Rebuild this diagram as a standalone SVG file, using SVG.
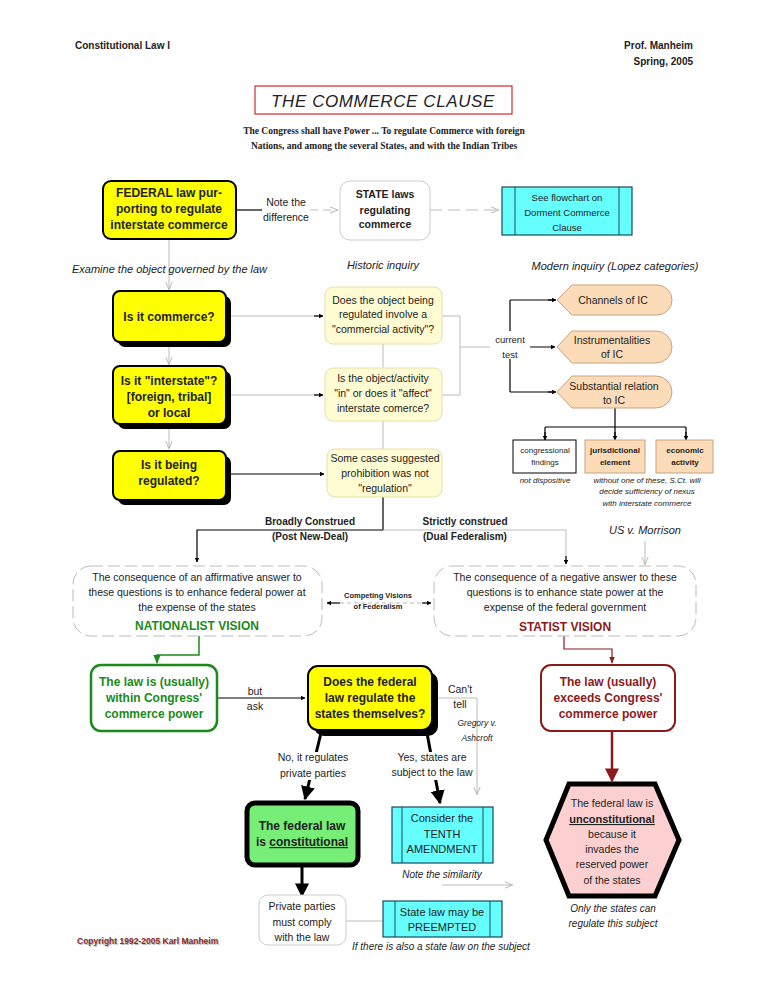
<svg xmlns="http://www.w3.org/2000/svg" width="768" height="994" viewBox="0 0 768 994">
<defs>
<marker id="ab" viewBox="0 0 10 10" refX="9" refY="5" markerWidth="6" markerHeight="6" orient="auto"><path d="M0,1 L10,5 L0,9 z" fill="#000"/></marker>
<marker id="abb" viewBox="0 0 10 10" refX="9" refY="5" markerWidth="4" markerHeight="4" orient="auto"><path d="M0,0 L10,5 L0,10 z" fill="#000"/></marker>
<marker id="abig" viewBox="0 0 10 10" refX="9" refY="5" markerUnits="userSpaceOnUse" markerWidth="14" markerHeight="14" orient="auto"><path d="M0,0 L10,5 L0,10 z" fill="#000"/></marker>
<marker id="rbig" viewBox="0 0 10 10" refX="9" refY="5" markerUnits="userSpaceOnUse" markerWidth="14" markerHeight="14" orient="auto"><path d="M0,0 L10,5 L0,10 z" fill="#8b1a1a"/></marker>
<marker id="ag" viewBox="0 0 10 10" refX="9" refY="5" markerWidth="6" markerHeight="6" orient="auto"><path d="M0,1 L10,5 L0,9 z" fill="#1a8a1a"/></marker>
<marker id="ar" viewBox="0 0 10 10" refX="9" refY="5" markerWidth="6" markerHeight="6" orient="auto"><path d="M0,1 L10,5 L0,9 z" fill="#8b1a1a"/></marker>
<marker id="ao" viewBox="0 0 10 10" refX="9" refY="5" markerWidth="8" markerHeight="8" orient="auto"><path d="M0,1 L10,5 L0,9" fill="none" stroke="#aaa"/></marker>
</defs>
<style>
text{font-family:"Liberation Sans",Arial,sans-serif;fill:#222}
.c{text-anchor:middle}
.b{font-weight:bold}
.i{font-style:italic}
.yl{fill:#ffff00;stroke:#000;stroke-width:2}
.sh{fill:#000}
.ly{fill:#fffbd2;stroke:#e6e0a8;stroke-width:1}
.or{fill:#fcdcb8;stroke:#c9a27e;stroke-width:1}
.cy{fill:#66ffff;stroke:#1a4a5a;stroke-width:1.2}
.g{stroke:#bbb;fill:none;stroke-width:1}
.k{stroke:#000;fill:none;stroke-width:1.2}
.ds{fill:#fff;stroke:#bbb;stroke-dasharray:12 5;stroke-width:1}
</style>
<rect width="768" height="994" fill="#fff"/>
<text x="75" y="49" class="b" font-size="10">Constitutional Law I</text>
<text x="693" y="49" class="b" font-size="10" text-anchor="end">Prof. Manheim</text>
<text x="693" y="65" class="b" font-size="10" text-anchor="end">Spring, 2005</text>
<rect x="255" y="86" width="257" height="28" fill="none" stroke="#c00" stroke-width="1"/>
<text x="383" y="107" class="c i" font-size="17" letter-spacing="0.6">THE  COMMERCE  CLAUSE</text>
<text x="384" y="134" class="c b" font-size="9.5" style="font-family:'Liberation Serif',serif">The Congress shall have Power ... To regulate Commerce with foreign</text>
<text x="384" y="149" class="c b" font-size="9.5" style="font-family:'Liberation Serif',serif">Nations, and among the several States, and with the Indian Tribes</text>

<g id="connectors">
<path class="k" d="M236,210 H262"/>
<path class="g" d="M310,210 H337" stroke-dasharray="8 5" marker-end="url(#ao)"/>
<path class="g" d="M430,210 H498" stroke-dasharray="12 6" marker-end="url(#ao)"/>
<path class="g" d="M169,239 V289" marker-end="url(#ao)"/>
<path class="g" d="M169,342 V364" marker-end="url(#ao)"/>
<path class="g" d="M169,424 V448" marker-end="url(#ao)"/>
<path class="g" d="M226,316 H318"/><path class="k" d="M314,316 H323" marker-end="url(#abb)"/>
<path class="g" d="M226,395 H318"/><path class="k" d="M314,395 H323" marker-end="url(#abb)"/>
<path class="k" d="M226,474 H324" marker-end="url(#abb)"/>
<path class="g" d="M383,344 V368 M383,421 V449"/>
<path class="g" d="M442,316 H460 V395 H442 M460,347 H510"/>
<path class="k" d="M510,347 H555" marker-end="url(#abb)"/>
<path class="k" d="M510,300 V392 M510,300 H555 M510,392 H555" />
<path class="k" d="M548,300 H556" marker-end="url(#abb)"/>
<path class="k" d="M548,392 H556" marker-end="url(#abb)"/>
<path class="k" d="M615,408 V427 M545,427 H686 M545,427 V439 M615,427 V439 M686,427 V439"/>
<path class="k" d="M545,432 V440" marker-end="url(#abb)"/>
<path class="k" d="M615,432 V440" marker-end="url(#abb)"/>
<path class="k" d="M686,432 V440" marker-end="url(#abb)"/>
<path class="k" d="M383,497 V530 H197 V562" marker-end="url(#abb)"/>
<path class="g" d="M383,530 H566 V560"/><path class="k" d="M566,556 V564" marker-end="url(#abb)"/>
<path class="g" d="M645,541 V564" marker-end="url(#ao)"/>
<path class="g" d="M340,603 H425" stroke-dasharray="4 3"/>
<path class="k" d="M340,603 H327" marker-end="url(#abb)"/>
<path class="k" d="M422,603 H431" marker-end="url(#abb)"/>
<path d="M199,636 V655 H157 V663" fill="none" stroke="#1a8a1a" stroke-width="1.5" marker-end="url(#ag)"/>
<path class="k" d="M217,698 H305" marker-end="url(#abb)"/>
<path d="M564,636 V649 H612 V663" fill="none" stroke="#8b1a1a" stroke-width="1.2" marker-end="url(#ar)"/>
<path d="M612,731 V781" fill="none" stroke="#8b1a1a" stroke-width="2.5" marker-end="url(#rbig)"/>
<path class="g" d="M432,698 H477 V794" marker-end="url(#ao)"/>
<path d="M321,733 L305,799" fill="none" stroke="#000" stroke-width="3" marker-end="url(#abig)"/>
<path d="M427,733 L440,803" fill="none" stroke="#000" stroke-width="3" marker-end="url(#abig)"/>
<path d="M302,866 V896" fill="none" stroke="#000" stroke-width="3" marker-end="url(#abig)"/>
<path class="g" d="M442,885 H512" marker-end="url(#ao)"/>
<path class="g" d="M346,921 H384"/>
</g>

<g id="federal"><rect x="103" y="181" width="133" height="58" rx="8" class="yl" stroke-width="3"/>
<text x="169" y="197" class="c b" font-size="12">FEDERAL law pur-</text>
<text x="169" y="213" class="c b" font-size="12">porting to regulate</text>
<text x="169" y="229" class="c b" font-size="12">interstate commerce</text></g>
<g id="note"><text x="286" y="206" class="c" font-size="10.5">Note the</text><text x="286" y="221" class="c" font-size="10.5">difference</text></g>
<g id="state"><rect x="340" y="181" width="90" height="59" rx="10" fill="#fff" stroke="#ccc"/>
<text x="385" y="198" class="c b" font-size="10.5">STATE laws</text>
<text x="385" y="214" class="c b" font-size="10.5">regulating</text>
<text x="385" y="228" class="c b" font-size="10.5">commerce</text></g>
<g id="dormant"><rect x="502" y="187" width="130" height="48" class="cy"/><path d="M515,187 V235 M619,187 V235" stroke="#1a4a5a"/>
<text x="567" y="201" class="c" font-size="9.5">See flowchart on</text>
<text x="567" y="216" class="c" font-size="9.5">Dorment Commerce</text>
<text x="567" y="231" class="c" font-size="9.5">Clause</text></g>
<text x="72" y="273" class="i" font-size="11">Examine the object governed by the law</text>
<text x="383" y="269" class="c i" font-size="11">Historic inquiry</text>
<text x="615" y="270" class="c i" font-size="11">Modern inquiry  (Lopez categories)</text>

<g id="q1"><rect x="118" y="296" width="113" height="51" rx="7" class="sh"/><rect x="113" y="291" width="113" height="51" rx="7" class="yl" stroke="none"/>
<text x="169" y="321" class="c b" font-size="12">Is it commerce?</text></g>
<g id="q2"><rect x="118" y="371" width="113" height="58" rx="7" class="sh"/><rect x="113" y="366" width="113" height="58" rx="7" class="yl" stroke="none"/>
<text x="169" y="385" class="c b" font-size="12">Is it "interstate"?</text>
<text x="169" y="401" class="c b" font-size="12">[foreign, tribal]</text>
<text x="169" y="417" class="c b" font-size="12">or local</text></g>
<g id="q3"><rect x="118" y="456" width="113" height="49" rx="7" class="sh"/><rect x="113" y="451" width="113" height="49" rx="7" class="yl" stroke="none"/>
<text x="169" y="469" class="c b" font-size="12">Is it being</text>
<text x="169" y="485" class="c b" font-size="12">regulated?</text></g>

<g id="h1"><rect x="325" y="287" width="117" height="57" rx="8" class="ly"/>
<text x="383" y="304" class="c" font-size="10.5">Does the object being</text>
<text x="383" y="318" class="c" font-size="10.5">regulated involve a</text>
<text x="383" y="333" class="c" font-size="10.5">"commercial activity"?</text></g>
<g id="h2"><rect x="325" y="368" width="117" height="53" rx="8" class="ly"/>
<text x="383" y="382" class="c" font-size="10.5">Is the object/activity</text>
<text x="383" y="397" class="c" font-size="10.5">"in" or does it "affect"</text>
<text x="383" y="412" class="c" font-size="10.5">interstate comerce?</text></g>
<g id="h3"><rect x="327" y="449" width="115" height="48" rx="8" class="ly"/>
<text x="385" y="462" class="c" font-size="10.5">Some cases suggested</text>
<text x="385" y="477" class="c" font-size="10.5">prohibition was not</text>
<text x="385" y="492" class="c" font-size="10.5">"regulation"</text></g>
<g id="ct"><rect x="490" y="331" width="40" height="28" fill="#fff"/>
<text x="510" y="343" class="c" font-size="9.5">current</text><text x="510" y="358" class="c" font-size="9.5">test</text></g>

<g id="channels"><path d="M572,285 H657 A15,15 0 0 1 657,315 H572 L557,300 Z" class="or"/>
<text x="613" y="304" class="c" font-size="10.5">Channels of IC</text></g>
<g id="instr"><path d="M572,331 H656 A16,16 0 0 1 656,363 H572 L557,347 Z" class="or"/>
<text x="612" y="344" class="c" font-size="10.5">Instrumentalities</text>
<text x="612" y="358" class="c" font-size="10.5">of IC</text></g>
<g id="subst"><path d="M572,376 H656 A16,16 0 0 1 656,408 H572 L557,392 Z" class="or"/>
<text x="614" y="390" class="c" font-size="10.5">Substantial relation</text>
<text x="614" y="404" class="c" font-size="10.5">to IC</text></g>
<g id="cf"><rect x="513" y="440" width="63" height="33" fill="#fff" stroke="#000"/>
<text x="545" y="453" class="c" font-size="8">congressional</text><text x="545" y="465" class="c" font-size="8">findings</text></g>
<g id="je"><rect x="585" y="440" width="60" height="33" class="or" stroke="#000"/>
<text x="615" y="453" class="c b" font-size="8">jurisdictional</text><text x="615" y="465" class="c b" font-size="8">element</text></g>
<g id="ea"><rect x="656" y="440" width="57" height="33" class="or" stroke="#000"/>
<text x="685" y="453" class="c b" font-size="8">economic</text><text x="685" y="465" class="c b" font-size="8">activity</text></g>
<text x="545" y="483" class="c i" font-size="8">not dispositive</text>
<text x="647" y="483" class="c i" font-size="8">without one of these, S.Ct. will</text>
<text x="647" y="494" class="c i" font-size="8">decide sufficiency of nexus</text>
<text x="647" y="506" class="c i" font-size="8">with interstate commerce</text>

<text x="310" y="525" class="c b" font-size="10">Broadly Construed</text>
<text x="310" y="540" class="c b" font-size="10">(Post New-Deal)</text>
<text x="465" y="525" class="c b" font-size="10">Strictly construed</text>
<text x="465" y="540" class="c b" font-size="10">(Dual Federalism)</text>
<text x="645" y="534" class="c i" font-size="11">US v. Morrison</text>

<g id="nat"><rect x="73" y="566" width="249" height="70" rx="18" class="ds"/>
<text x="197" y="581" class="c" font-size="10.5">The consequence of an affirmative answer to</text>
<text x="197" y="596" class="c" font-size="10.5">these questions is to enhance federal power at</text>
<text x="197" y="611" class="c" font-size="10.5">the expense of the states</text>
<text x="197" y="630" class="c b" font-size="12" style="fill:#1a8a1a">NATIONALIST VISION</text></g>
<g id="comp"><text x="378" y="598" class="c b" font-size="7.5">Competing Visions</text><text x="378" y="609" class="c b" font-size="7.5">of Federalism</text></g>
<g id="stat"><rect x="434" y="566" width="262" height="70" rx="18" class="ds"/>
<text x="565" y="581" class="c" font-size="10.5">The consequence of a negative answer to these</text>
<text x="565" y="596" class="c" font-size="10.5">questions is to enhance state power at the</text>
<text x="565" y="611" class="c" font-size="10.5">expense of the federal government</text>
<text x="565" y="631" class="c b" font-size="12" style="fill:#8b1a1a">STATIST VISION</text></g>

<g id="within"><rect x="91" y="665" width="126" height="66" rx="10" fill="#fff" stroke="#1a8a1a" stroke-width="2.5"/>
<text x="154" y="686" class="c b" font-size="12" style="fill:#1a8a1a">The law is (usually)</text>
<text x="154" y="702" class="c b" font-size="12" style="fill:#1a8a1a">within Congress'</text>
<text x="154" y="718" class="c b" font-size="12" style="fill:#1a8a1a">commerce power</text></g>
<text x="255" y="695" class="c" font-size="10.5">but</text><text x="255" y="710" class="c" font-size="10.5">ask</text>
<g id="does"><rect x="314" y="672" width="124" height="64" rx="10" class="sh"/><rect x="308" y="666" width="124" height="64" rx="10" class="yl" stroke="none"/>
<text x="370" y="686" class="c b" font-size="12">Does the federal</text>
<text x="370" y="702" class="c b" font-size="12">law regulate the</text>
<text x="370" y="718" class="c b" font-size="12">states themselves?</text></g>
<text x="460" y="693" class="c" font-size="10.5">Can't</text><text x="460" y="708" class="c" font-size="10.5">tell</text>
<text x="477" y="726" class="c i" font-size="8.5">Gregory v.</text><text x="477" y="741" class="c i" font-size="8.5">Ashcroft</text>
<g id="exceeds"><rect x="541" y="665" width="134" height="66" rx="10" fill="#fff" stroke="#8b1a1a" stroke-width="2"/>
<text x="608" y="686" class="c b" font-size="12" style="fill:#8b1a1a">The law (usually)</text>
<text x="608" y="702" class="c b" font-size="12" style="fill:#8b1a1a">exceeds Congress'</text>
<text x="608" y="718" class="c b" font-size="12" style="fill:#8b1a1a">commerce power</text></g>
<rect x="280" y="752" width="66" height="28" fill="#fff"/>
<text x="313" y="761" class="c" font-size="10.5">No, it regulates</text>
<text x="313" y="777" class="c" font-size="10.5">private parties</text>
<rect x="398" y="752" width="68" height="28" fill="#fff"/>
<text x="432" y="761" class="c" font-size="10.5">Yes, states are</text>
<text x="432" y="776" class="c" font-size="10.5">subject to the law</text>

<g id="constit"><rect x="247" y="803" width="111" height="62" rx="8" fill="#77ee77" stroke="#000" stroke-width="5"/>
<text x="302" y="830" class="c b" font-size="12">The federal law</text>
<text x="302" y="846" class="c b" font-size="12">is <tspan text-decoration="underline">constitutional</tspan></text></g>
<g id="tenth"><rect x="392" y="807" width="101" height="56" class="cy"/><path d="M402,807 V863 M483,807 V863" stroke="#1a4a5a"/>
<text x="442" y="822" class="c" font-size="11">Consider the</text>
<text x="442" y="838" class="c" font-size="11">TENTH</text>
<text x="442" y="853" class="c" font-size="11">AMENDMENT</text></g>
<text x="442" y="878" class="c i" font-size="10">Note the similarity</text>
<g id="unconst"><polygon points="546,840 569,784 655,784 679,840 655,896 569,896" fill="#fcd0d0" stroke="#000" stroke-width="5"/>
<text x="612" y="807" class="c" font-size="10.5">The federal law is</text>
<text x="612" y="823" class="c b" font-size="11" text-decoration="underline">unconstitutional</text>
<text x="612" y="838" class="c" font-size="10.5">because it</text>
<text x="612" y="853" class="c" font-size="10.5">invades the</text>
<text x="612" y="868" class="c" font-size="10.5">reserved power</text>
<text x="612" y="884" class="c" font-size="10.5">of the states</text></g>
<text x="613" y="912" class="c i" font-size="10">Only the states can</text>
<text x="613" y="927" class="c i" font-size="10">regulate this subject</text>
<g id="private"><rect x="259" y="895" width="87" height="50" rx="9" fill="#fff" stroke="#ccc"/>
<text x="302" y="910" class="c" font-size="10.5">Private parties</text>
<text x="302" y="926" class="c" font-size="10.5">must comply</text>
<text x="302" y="941" class="c" font-size="10.5">with the law</text></g>
<g id="preempt"><rect x="383" y="901" width="119" height="36" class="cy"/><path d="M395,901 V937 M490,901 V937" stroke="#1a4a5a"/>
<text x="442" y="916" class="c" font-size="11">State law may be</text>
<text x="442" y="931" class="c" font-size="11">PREEMPTED</text></g>
<text x="352" y="950" class="i" font-size="10">If there is also a state law on the subject</text>
<text x="78" y="945" class="b" font-size="8.5" style="fill:#bbb">Copyright 1992-2005  Karl Manheim</text>
<text x="77" y="944" class="b" font-size="8.5" style="fill:#8b2a2a">Copyright 1992-2005  Karl Manheim</text>
</svg>
